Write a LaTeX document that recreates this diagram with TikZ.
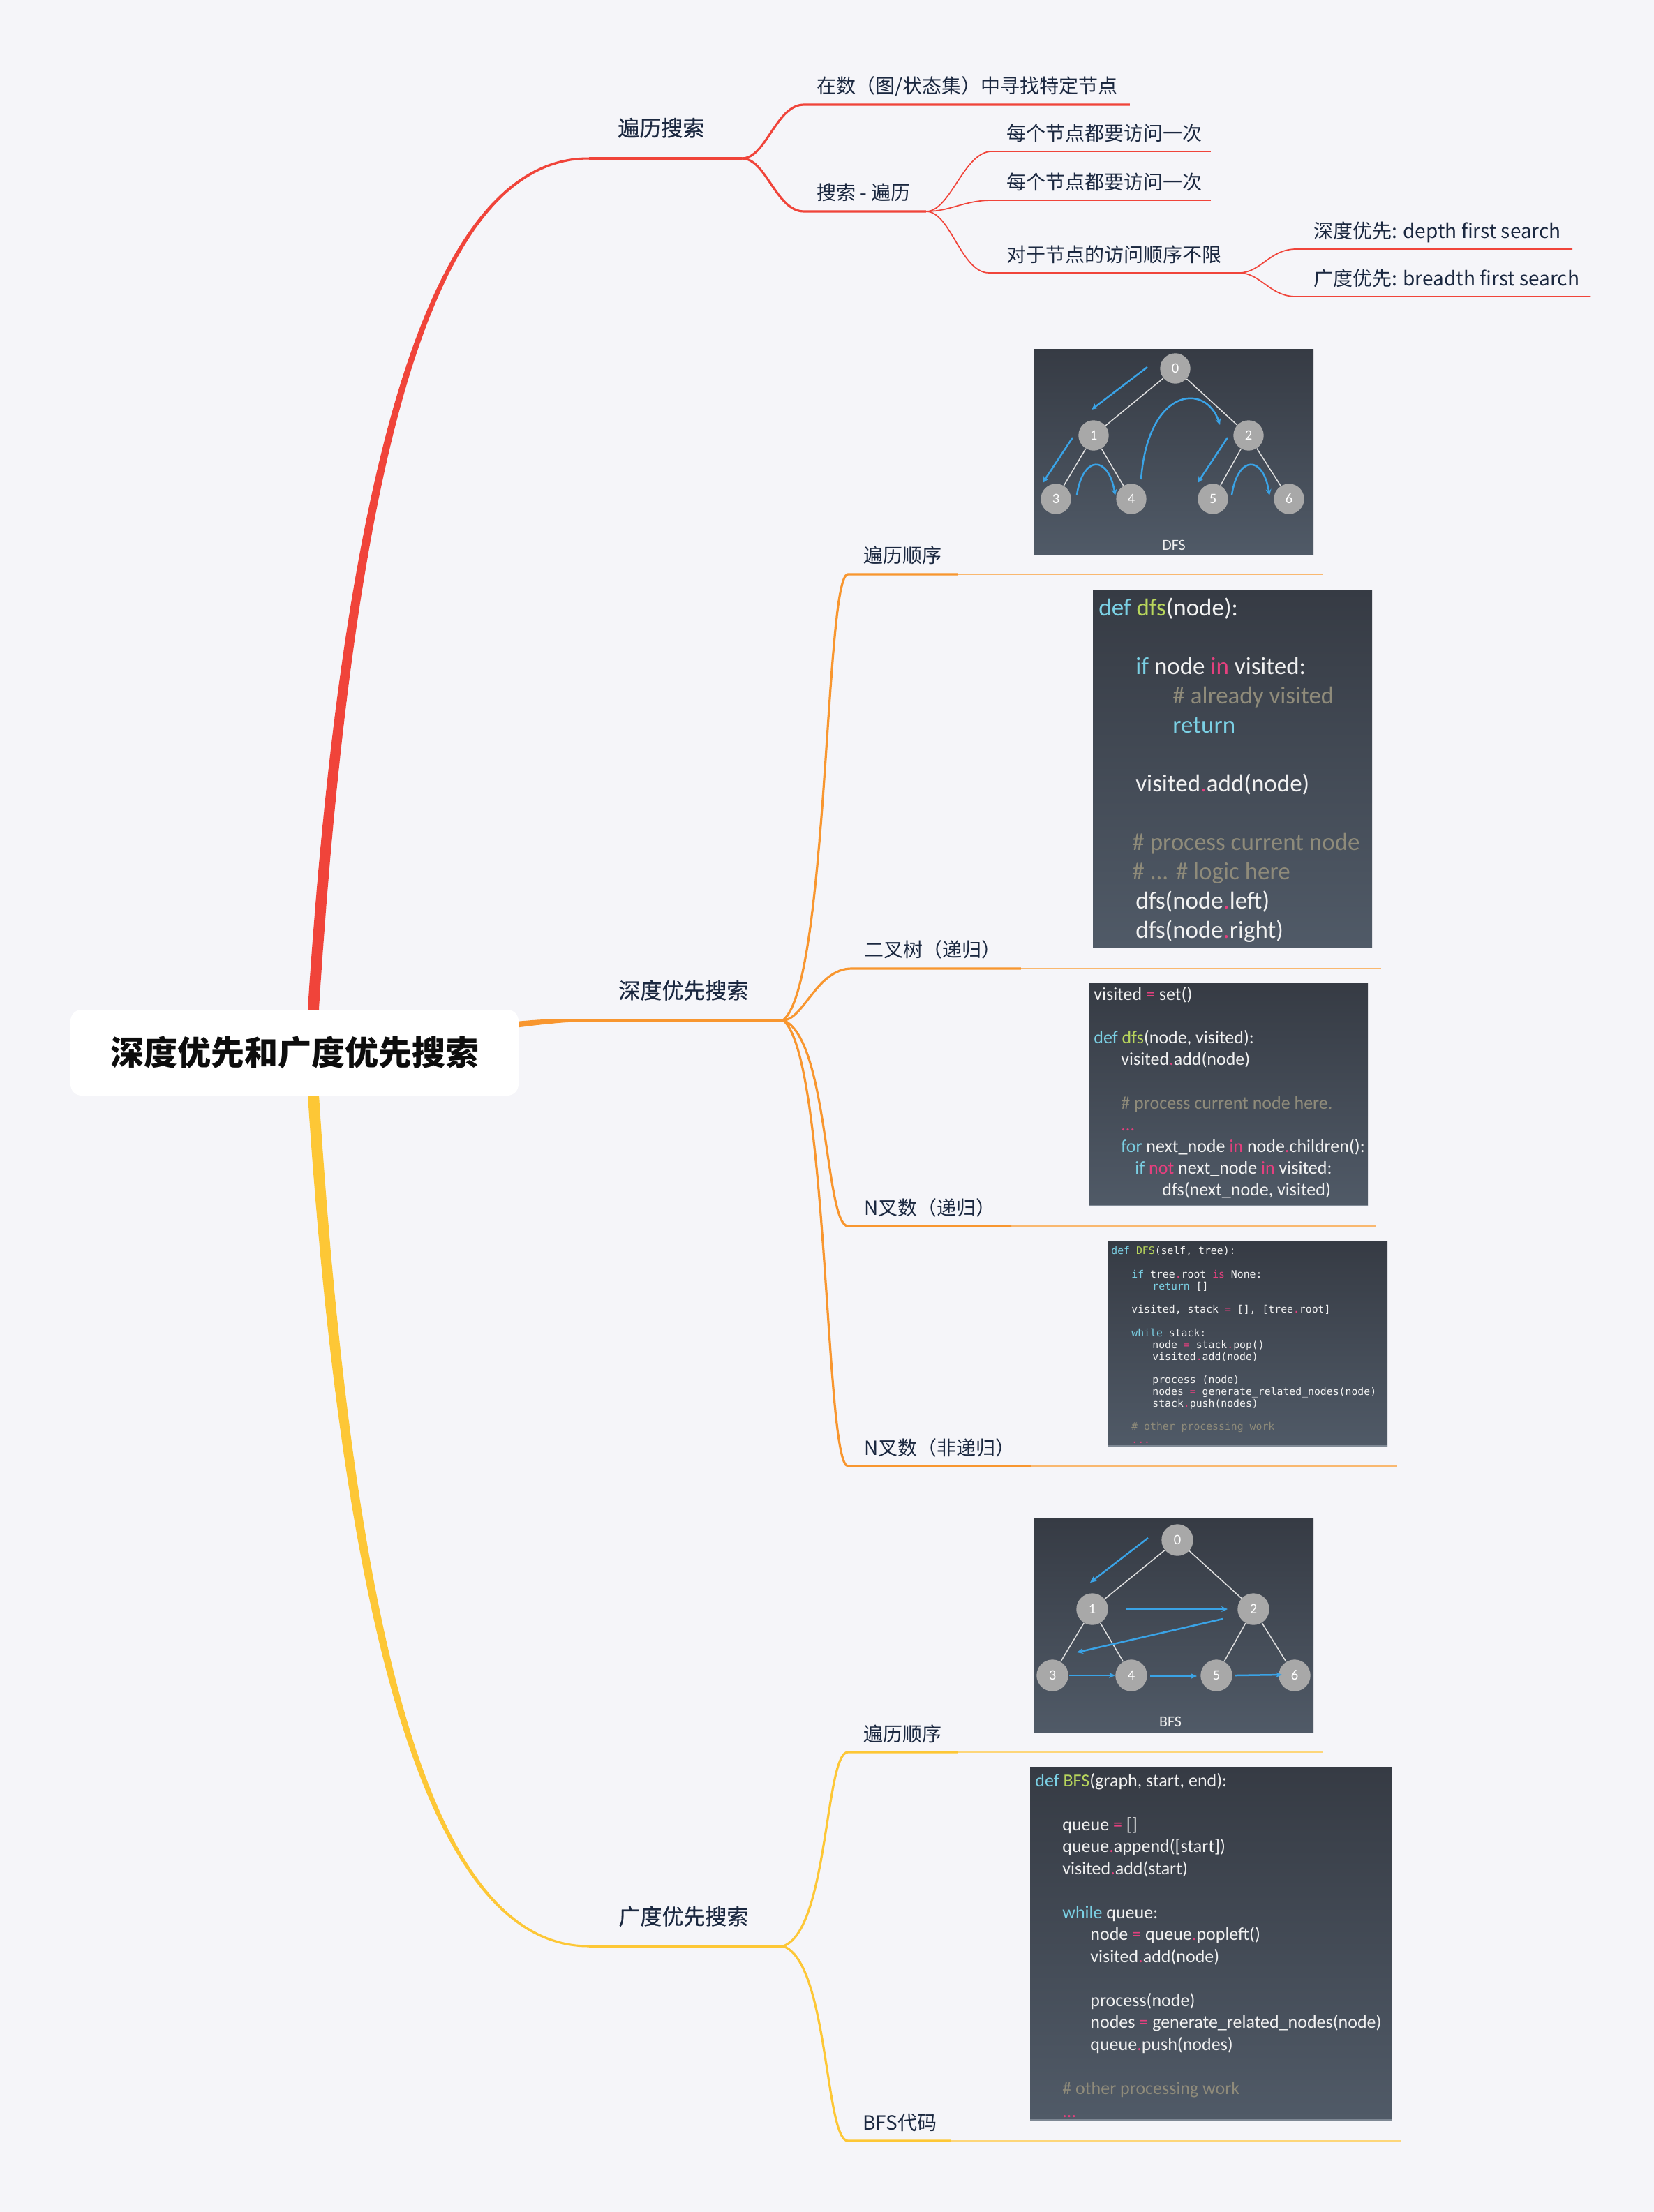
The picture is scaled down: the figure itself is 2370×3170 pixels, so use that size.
\documentclass[tikz,border=0pt]{standalone}
\usepackage{fontspec}
\setmainfont{Noto Sans CJK SC}
\newfontfamily\medfont{Noto Sans CJK SC}[FakeBold=0.6]
\newfontfamily\codef{Carlito}
\newfontfamily\monof{DejaVu Sans Mono}
\usetikzlibrary{calc,arrows.meta}
\definecolor{bg}{HTML}{F5F5F9}
\definecolor{txt}{HTML}{1B2840}
\definecolor{redC}{HTML}{F0443A}
\definecolor{orC}{HTML}{F8962F}
\definecolor{orL}{HTML}{F9B870}
\definecolor{yeC}{HTML}{FDC736}
\definecolor{yeL}{HTML}{FDD67A}
\definecolor{imgT}{HTML}{363B44}
\definecolor{imgB}{HTML}{505A67}
\definecolor{imgE}{HTML}{7E8894}
\definecolor{ngray}{HTML}{A8A8A8}
\definecolor{arrB}{HTML}{3AA3E6}
\definecolor{kwc}{HTML}{7BD0E4}
\definecolor{fnc}{HTML}{B8D65C}
\definecolor{opc}{HTML}{E4407E}
\definecolor{cmc}{HTML}{8F8B7A}
\definecolor{cwc}{HTML}{F1F1F1}
\newcommand\ckw[1]{\textcolor{kwc}{#1}}
\newcommand\cfn[1]{\textcolor{fnc}{#1}}
\newcommand\cop[1]{\textcolor{opc}{#1}}
\newcommand\ccm[1]{\textcolor{cmc}{#1}}
\begin{document}
\begin{tikzpicture}[x=0.5pt,y=-0.5pt,
  lbl/.style={anchor=base west,inner sep=0pt,text=txt,font=\fontsize{14}{17}\selectfont},
  mainlbl/.style={anchor=base west,inner sep=0pt,text=txt,font=\medfont\fontsize{15.5}{18}\selectfont},
  cA/.style={anchor=base west,inner sep=0pt,text=cwc,font=\codef\fontsize{17.5}{21}\selectfont},
  cB/.style={anchor=base west,inner sep=0pt,text=cwc,font=\codef\fontsize{13}{15.5}\selectfont},
  cC/.style={anchor=base west,inner sep=0pt,text=cwc,font=\monof\fontsize{7.4}{8.4}\selectfont},
  tn/.style={circle,fill=ngray,minimum size=21.7pt,inner sep=0pt,text=white,font=\codef\fontsize{10.3}{12}\selectfont},
  tn2/.style={tn,minimum size=22.7pt},
  tlab/.style={inner sep=0pt,text=cwc,font=\codef\fontsize{11}{13}\selectfont},
  tedge/.style={draw=white!88!black,line width=0.75pt},
  barr/.style={draw=arrB,line width=1.25pt,-{Stealth[length=4.5pt,width=4pt]}},
  imgbox/.style={top color=imgT,bottom color=imgB},
  redL2/.style={draw=redC,line width=1.6pt},
  redL3/.style={draw=redC,line width=0.85pt},
  orL2/.style={draw=orC,line width=1.6pt},
  orExt/.style={draw=orL,line width=1pt},
  yeL2/.style={draw=yeC,line width=1.6pt},
  yeExt/.style={draw=yeL,line width=1pt}]
\useasboundingbox (0,0) rectangle (2370,3170);
\fill[bg] (0,0) rectangle (2370,3170);

% trunks
\fill[redC] (441,1500) -- (441,1446) .. controls (493,650) and (620,224) .. (844,225.5) -- (844,228.5) .. controls (622,229) and (508,650) .. (457,1446) -- (457,1500) -- cycle;
\fill[yeC] (441,1520) -- (441,1569) .. controls (493,2365) and (620,2791) .. (844,2790.5) -- (844,2787.5) .. controls (622,2787) and (508,2365) .. (457,1569) -- (457,1520) -- cycle;
\fill[orC] (730,1465) .. controls (785,1459) and (815,1460) .. (846,1460.2) -- (846,1463.8) .. controls (815,1464.2) and (785,1466.5) .. (730,1474) -- cycle;

% title
\node[fill=white,rounded corners=8pt,minimum width=321pt,minimum height=61.5pt,inner sep=0pt,text=black!95,font=\bfseries\fontsize{24}{28}\selectfont] (title) at (422,1508.5) {深度优先和广度优先搜索};

% junctions and corners
\coordinate (jA) at (1063,227);
\coordinate (jB) at (1122,1462);
\coordinate (jC) at (1122,2789);
\coordinate (mA) at (844,227);
\coordinate (mB) at (845,1462);
\coordinate (mC) at (844,2789);
\coordinate (w1) at (1152,150);
\coordinate (w2) at (1152,303);
\coordinate (jT2) at (1327,303);
\coordinate (w3) at (1421,217);
\coordinate (w4) at (1421,287);
\coordinate (w5) at (1417,391);
\coordinate (jT5) at (1775,391);
\coordinate (w6) at (1857,357);
\coordinate (w7) at (1857,425);
\coordinate (u1) at (1215,823);
\coordinate (u2) at (1220,1388);
\coordinate (u3) at (1215,1757);
\coordinate (u4) at (1215,2101);
\coordinate (v1) at (1215,2511);
\coordinate (v2) at (1215,3068);
\coordinate (e1end) at (1895,823);
\coordinate (e2end) at (1979,1388);
\coordinate (e3end) at (1972,1757);
\coordinate (e4end) at (2002,2101);
\coordinate (e5end) at (1895,2511);
\coordinate (e6end) at (2008,3068);

% labels
\node[mainlbl] (lA) at (885,195) {遍历搜索};
\node[mainlbl] (lB) at (886,1431) {深度优先搜索};
\node[mainlbl] (lC) at (886,2758) {广度优先搜索};
\node[lbl] (t1) at (1170,133) {在数（图/状态集）中寻找特定节点};
\node[lbl] (t2) at (1170,286) {搜索 - 遍历};
\node[lbl] (t3) at (1442,201) {每个节点都要访问一次};
\node[lbl] (t4) at (1442,271) {每个节点都要访问一次};
\node[lbl] (t5) at (1442,375) {对于节点的访问顺序不限};
\node[lbl] (t6) at (1882,341) {深度优先: depth first search};
\node[lbl] (t7) at (1882,409) {广度优先: breadth first search};
\node[lbl] (d1l) at (1237,806) {遍历顺序};
\node[lbl] (d2l) at (1238,1371) {二叉树（递归）};
\node[lbl] (d3l) at (1238,1741) {N叉数（递归）};
\node[lbl] (d4l) at (1238,2085) {N叉数（非递归）};
\node[lbl] (b1l) at (1237,2495) {遍历顺序};
\node[lbl] (b2l) at (1236,3052) {BFS代码};

% main underlines
\draw[draw=redC,line width=1.75pt] (mA) -- (jA);
\draw[draw=orC,line width=1.75pt] (mB) -- (jB);
\draw[draw=yeC,line width=1.75pt] (mC) -- (jC);

% top section
\draw[redL2] (jA) .. controls +(35,0) and +(-40,0) .. (w1) -- ($(t1.base east |- w1)+(17,0)$);
\draw[redL2] (jA) .. controls +(35,0) and +(-40,0) .. (w2) -- (jT2);
\draw[redL3] (jT2) .. controls +(35,0) and +(-40,0) .. (w3) -- ($(t3.base east |- w3)+(12,0)$);
\draw[redL3] (jT2) .. controls +(35,0) and +(-40,0) .. (w4) -- ($(t4.base east |- w4)+(12,0)$);
\draw[redL3] (jT2) .. controls +(35,0) and +(-40,0) .. (w5) -- (jT5);
\draw[redL3] (jT5) .. controls +(32,0) and +(-38,0) .. (w6) -- ($(t6.base east |- w6)+(16,0)$);
\draw[redL3] (jT5) .. controls +(32,0) and +(-38,0) .. (w7) -- ($(t7.base east |- w7)+(16,0)$);

% DFS section
\draw[orExt] (u1) -- (e1end);
\draw[orL2] (jB) .. controls (1187,1411) and (1182,823) .. (u1) -- ($(d1l.base east |- u1)+(22,0)$);
\draw[orExt] (u2) -- (e2end);
\draw[orL2] (jB) .. controls (1151,1462) and (1171,1388) .. (u2) -- ($(d2l.base east |- u2)+(28,0)$);
\draw[orExt] (u3) -- (e3end);
\draw[orL2] (jB) .. controls (1187,1486) and (1182,1757) .. (u3) -- ($(d3l.base east |- u3)+(22,0)$);
\draw[orExt] (u4) -- (e4end);
\draw[orL2] (jB) .. controls (1187,1513) and (1182,2101) .. (u4) -- ($(d4l.base east |- u4)+(22,0)$);

% BFS section
\draw[yeExt] (v1) -- (e5end);
\draw[yeL2] (jC) .. controls (1187,2767) and (1182,2511) .. (v1) -- ($(b1l.base east |- v1)+(22,0)$);
\draw[yeExt] (v2) -- (e6end);
\draw[yeL2] (jC) .. controls (1187,2811) and (1182,3068) .. (v2) -- ($(b2l.base east |- v2)+(20,0)$);

% ---------- DFS tree image
\shade[imgbox] (1482,500) rectangle (1882,794);
\node[tn] (d0) at (1684,528) {0};
\node[tn] (dn1) at (1567,624) {1};
\node[tn] (dn2) at (1789,624) {2};
\node[tn] (dn3) at (1513,715) {3};
\node[tn] (dn4) at (1621,715) {4};
\node[tn] (dn5) at (1738,715) {5};
\node[tn] (dn6) at (1847,715) {6};
\draw[tedge] (d0) -- (dn1);
\draw[tedge] (d0) -- (dn2);
\draw[tedge] (dn1) -- (dn3);
\draw[tedge] (dn1) -- (dn4);
\draw[tedge] (dn2) -- (dn5);
\draw[tedge] (dn2) -- (dn6);
\draw[barr] (1644,526) -- (1564,587);
\draw[barr] (1537,627) -- (1494,692);
\draw[barr] (1543,709) .. controls (1552,652) and (1588,652) .. (1598,710);
\draw[barr] (1635,687) .. controls (1645,555) and (1728,548) .. (1748,609);
\draw[barr] (1759,627) -- (1716,692);
\draw[barr] (1765,709) .. controls (1774,652) and (1810,652) .. (1819,710);
\node[tlab] (dfslab) at (1682,781) {DFS};

% ---------- DFS code 1
\shade[imgbox] (1566,846) rectangle (1966,1357);
\node[cA] (k1a) at (1574,882) {\ckw{def} \cfn{dfs}(node):};
\node[cA] (k1b) at (1627,966) {\ckw{if} node \cop{in} visited:};
\node[cA] (k1c) at (1680,1008) {\ccm{\# already visited}};
\node[cA] (k1d) at (1680,1050) {\ckw{return}};
\node[cA] (k1e) at (1627,1134) {visited\cop{.}add(node)};
\node[cA] (k1f) at (1622,1218) {\ccm{\# process current node}};
\node[cA] (k1g) at (1622,1260) {\ccm{\# ... \# logic here}};
\node[cA] (k1h) at (1627,1302) {dfs(node\cop{.}left)};
\node[cA] (k1i) at (1627,1344) {dfs(node\cop{.}right)};

% ---------- DFS code 2
\shade[imgbox] (1560,1409) rectangle (1960,1728);
\draw[imgE,line width=0.6pt] (1560,1728) -- (1960,1728);
\node[cB] (k2a) at (1567,1433) {visited \cop{=} set()};
\node[cB] (k2b) at (1567,1495) {\ckw{def} \cfn{dfs}(node, visited):};
\node[cB] (k2c) at (1606,1526) {visited\cop{.}add(node)};
\node[cB] (k2d) at (1606,1589) {\ccm{\# process current node here.}};
\node[cB] (k2e) at (1606,1620) {\cop{...}};
\node[cB] (k2f) at (1606,1651) {\ckw{for} next\_node \cop{in} node\cop{.}children():};
\node[cB] (k2g) at (1626,1682) {\ckw{if} \cop{not} next\_node \cop{in} visited:};
\node[cB] (k2h) at (1665,1713) {dfs(next\_node, visited)};

% ---------- DFS code 3
\shade[imgbox] (1588,1779) rectangle (1988,2072);
\draw[imgE,line width=0.6pt] (1588,2072) -- (1988,2072);
\begin{scope}
\clip (1588,1779) rectangle (1988,2071);
\node[cC] (k3a) at (1592,1797) {\ckw{def} \cfn{DFS}(self, tree):};
\node[cC] (k3b) at (1621,1831) {\ckw{if} tree\cop{.}root \cop{is} None:};
\node[cC] (k3c) at (1651,1848) {\ckw{return} []};
\node[cC] (k3d) at (1621,1881) {visited, stack \cop{=} [], [tree\cop{.}root]};
\node[cC] (k3e) at (1621,1915) {\ckw{while} stack:};
\node[cC] (k3f) at (1651,1932) {node \cop{=} stack\cop{.}pop()};
\node[cC] (k3g) at (1651,1949) {visited\cop{.}add(node)};
\node[cC] (k3h) at (1651,1982) {process (node)};
\node[cC] (k3i) at (1651,1999) {nodes \cop{=} generate\_related\_nodes(node)};
\node[cC] (k3j) at (1651,2016) {stack\cop{.}push(nodes)};
\node[cC] (k3k) at (1621,2049) {\ccm{\# other processing work}};
\node[cC] (k3l) at (1621,2068) {\cop{...}};
\end{scope}

% ---------- BFS tree image
\shade[imgbox] (1482,2176) rectangle (1882,2482);
\node[tn2] (e0) at (1687,2207) {0};
\node[tn2] (en1) at (1565,2306) {1};
\node[tn2] (en2) at (1796,2306) {2};
\node[tn2] (en3) at (1508,2401) {3};
\node[tn2] (en4) at (1621,2401) {4};
\node[tn2] (en5) at (1743,2401) {5};
\node[tn2] (en6) at (1855,2401) {6};
\draw[tedge] (e0) -- (en1);
\draw[tedge] (e0) -- (en2);
\draw[tedge] (en1) -- (en3);
\draw[tedge] (en1) -- (en4);
\draw[tedge] (en2) -- (en5);
\draw[tedge] (en2) -- (en6);
\draw[barr] (1645,2204) -- (1562,2268);
\draw[barr] (1614,2306) -- (1759,2306);
\draw[barr] (1752,2320) -- (1543,2368);
\draw[barr] (1532,2401) -- (1598,2401);
\draw[barr] (1648,2402) -- (1715,2402);
\draw[barr] (1770,2401) -- (1837,2400);
\node[tlab] (bfslab) at (1677,2467) {BFS};

% ---------- BFS code
\shade[imgbox] (1476,2532) rectangle (1994,3038);
\draw[imgE,line width=0.6pt] (1476,3038) -- (1994,3038);
\begin{scope}
\clip (1476,2532) rectangle (1994,3037);
\node[cB] (k4a) at (1483,2560) {\ckw{def} \cfn{BFS}(graph, start, end):};
\node[cB] (k4b) at (1522,2623) {queue \cop{=} []};
\node[cB] (k4c) at (1522,2654.5) {queue\cop{.}append([start])};
\node[cB] (k4d) at (1522,2686) {visited\cop{.}add(start)};
\node[cB] (k4e) at (1522,2749) {\ckw{while} queue:};
\node[cB] (k4f) at (1562,2780.5) {node \cop{=} queue\cop{.}popleft()};
\node[cB] (k4g) at (1562,2812) {visited\cop{.}add(node)};
\node[cB] (k4h) at (1562,2875) {process(node)};
\node[cB] (k4i) at (1562,2906.5) {nodes \cop{=} generate\_related\_nodes(node)};
\node[cB] (k4j) at (1562,2938) {queue\cop{.}push(nodes)};
\node[cB] (k4k) at (1522,3001) {\ccm{\# other processing work}};
\node[cB] (k4l) at (1522,3034) {\cop{...}};
\end{scope}
\end{tikzpicture}
\end{document}
